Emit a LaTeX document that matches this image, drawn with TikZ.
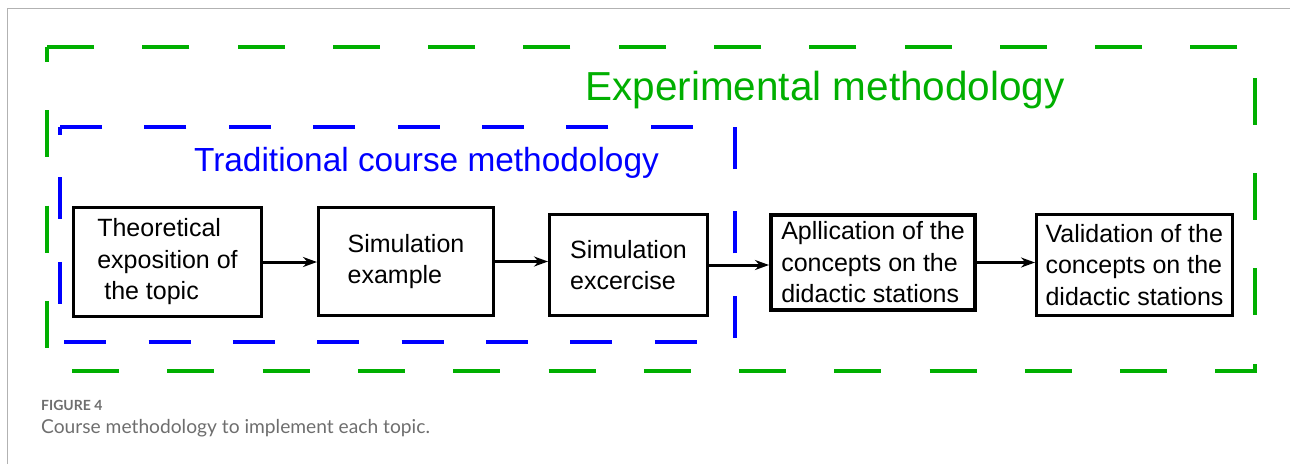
\documentclass[tikz,border=0pt]{standalone}
\usepackage{fontspec}
\setmainfont{Liberation Sans}
\newfontfamily\captionfont{Lato}
\usetikzlibrary{arrows.meta}
\definecolor{expgreen}{RGB}{0,175,0}
\definecolor{tradblue}{RGB}{0,0,255}
\definecolor{capgray}{RGB}{110,110,110}

\begin{document}
\begin{tikzpicture}[x=1pt, y=-1pt,
    block/.style={draw, line width=3pt, inner sep=0pt, align=left,
      font=\fontsize{25}{31.5}\selectfont},
    flow/.style={line width=3pt, -{Stealth[length=14pt, width=10pt]}}]
  \useasboundingbox (0,0) rectangle (1290,464);

  % page frame
  \draw [gray!60, line width=1pt] (7,464) -- (7,8.5) -- (1290,8.5);

  % dashed frames
  \draw [expgreen, line width=4pt, dash pattern=on 47pt off 48.28pt, dash phase=32pt]
    (47,47) -- (47,371) -- (1255,371) -- (1255,47) -- cycle;
  \draw [tradblue, line width=4pt, dash pattern=on 42pt off 42.38pt, dash phase=34pt]
    (60,127) -- (60,342) -- (735,342) -- (735,127) -- cycle;

  \node [expgreen, anchor=base, font=\fontsize{40.5}{48}\selectfont] (exptitle) at (825,100) {Experimental methodology};
  \node [tradblue, anchor=base, font=\fontsize{33.4}{40}\selectfont] (tradtitle) at (426.5,171) {Traditional course methodology};

  % steps
  \node [block, minimum width=188pt, minimum height=109pt] (theory) at (167.5,262) {Theoretical\\exposition of\\\hspace*{0.28em}the topic};
  \node [block, minimum width=175pt, minimum height=108pt] (simex) at (406,261.5) {Simulation\\example};
  \node [block, minimum width=158pt, minimum height=101pt] (simexc) at (628.5,265) {Simulation\\excercise};
  \node [block, line width=4pt, minimum width=204pt, minimum height=95pt] (apply) at (873,262.5) {Apllication of the\\concepts on the\\didactic stations};
  \node [block, minimum width=196pt, minimum height=101pt] (valid) at (1134.5,265) {Validation of the\\concepts on the\\didactic stations};

  \draw [flow] (theory.east) -- (theory.east -| simex.west);
  \draw [flow] (simex.east) -- (simex.east -| simexc.west);
  \draw [flow] (simexc.east) -- (simexc.east -| apply.west);
  \draw [flow] (apply.east) -- (apply.east -| valid.west);

  % caption
  \node [capgray, anchor=base west, inner sep=0pt, font=\captionfont\bfseries\fontsize{14}{16}\selectfont] (figlabel) at (41,410) {FIGURE 4};
  \node [capgray, anchor=base west, inner sep=0pt, font=\captionfont\fontsize{19.2}{22}\selectfont] (figtext) at (41,433) {Course methodology to implement each topic.};
\end{tikzpicture}
\end{document}
